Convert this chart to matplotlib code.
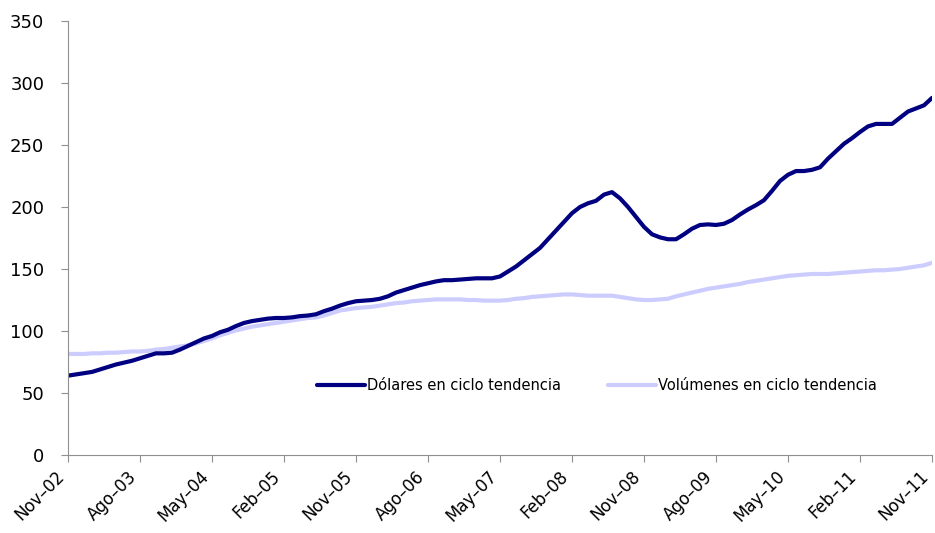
import numpy as np
import matplotlib
matplotlib.use('Agg')
import matplotlib.pyplot as plt
from matplotlib.transforms import ScaledTranslation

# Serie mensual nov-2002 a nov-2011 (indices, base ~100)
dolares = [64, 65, 66, 67, 69, 71, 73, 74.5, 76, 78,
           80, 82, 82, 82.5, 85, 88, 91, 94, 96, 99,
           101, 104, 106.5, 108, 109, 110, 110.5, 110.5, 111, 112,
           112.5, 113.5, 116, 118, 120.5, 122.5, 124, 124.5, 125, 126,
           128, 131, 133, 135, 137, 138.5, 140, 141, 141, 141.5,
           142, 142.5, 142.5, 142.5, 144, 148, 152, 157, 162, 167,
           174, 181, 188, 195, 200, 203, 205, 210, 212, 207,
           200, 192, 184, 178, 175.5, 174, 174, 178, 182.5, 185.5,
           186, 185.5, 186.5, 189.5, 194, 198, 201.5, 205.5, 213, 221,
           226, 229, 229, 230, 232, 239, 245, 251, 255.5, 260.5,
           265, 267, 267, 267, 272, 277, 279.5, 282, 288]

volumenes = [81.5, 81.5, 81.5, 82, 82, 82.5, 82.5, 83, 83.5, 83.5,
             84, 85, 85.5, 86.5, 87.5, 88.5, 90, 92, 94, 96.5,
             98.5, 100.5, 102, 103.5, 104.5, 105.5, 106.5, 107.5, 108.5, 109.5,
             110.5, 111, 112.5, 114.5, 116.5, 117.5, 118.5, 119, 119.5, 120.5,
             121.5, 122.5, 123, 124, 124.5, 125, 125.5, 125.5, 125.5, 125.5,
             125, 125, 124.5, 124.5, 124.5, 125, 126, 126.5, 127.5, 128,
             128.5, 129, 129.5, 129.5, 129, 128.5, 128.5, 128.5, 128.5, 127.5,
             126.5, 125.5, 125, 125, 125.5, 126, 128, 129.5, 131, 132.5,
             134, 135, 136, 137, 138, 139.5, 140.5, 141.5, 142.5, 143.5,
             144.5, 145, 145.5, 146, 146, 146, 146.5, 147, 147.5, 148,
             148.5, 149, 149, 149.5, 150, 151, 152, 153, 155]

etiquetas = ['Nov-02', 'Ago-03', 'May-04', 'Feb-05', 'Nov-05', 'Ago-06', 'May-07',
             'Feb-08', 'Nov-08', 'Ago-09', 'May-10', 'Feb-11', 'Nov-11']

meses = np.arange(len(dolares))

fig = plt.figure(figsize=(9.35, 5.33), dpi=100)
ax = fig.add_axes([0.0727, 0.1463, 0.9241, 0.8143])

ax.plot(meses, volumenes, color='#CCCCFF', lw=3.0, solid_capstyle='round',
        label='Volúmenes en ciclo tendencia')
ax.plot(meses, dolares, color='#000080', lw=3.0, solid_capstyle='round',
        label='Dólares en ciclo tendencia')

ax.set_xlim(0, len(dolares) - 1)
ax.set_ylim(0, 350)
ax.set_yticks(np.arange(0, 351, 50))
ax.set_xticks(np.arange(0, len(dolares), 9))
ax.set_xticklabels([e.replace('-', '\u2013') for e in etiquetas], rotation=45,
                   ha='right', va='top', rotation_mode='anchor')

for s in ['top', 'right']:
    ax.spines[s].set_visible(False)
for s in ['left', 'bottom']:
    ax.spines[s].set_color('#909090')
ax.tick_params(direction='out', length=5, color='#909090', labelsize=13, pad=4)
ax.tick_params(axis='x', labelsize=12)
ax.tick_params(axis='y', pad=12)

# desplazar un poco las etiquetas del eje x hacia la izquierda
desp = ScaledTranslation(-9 / 72, 0, fig.dpi_scale_trans)
for t in ax.get_xticklabels():
    t.set_transform(t.get_transform() + desp)

h, l = ax.get_legend_handles_labels()
ax.legend(h[::-1], l[::-1], loc='center', bbox_to_anchor=(0.612, 0.161), ncol=2,
          frameon=False, fontsize=10.5, handlelength=3.3, handletextpad=0.15,
          columnspacing=3.2)

fig.savefig('out.png', dpi=100)
